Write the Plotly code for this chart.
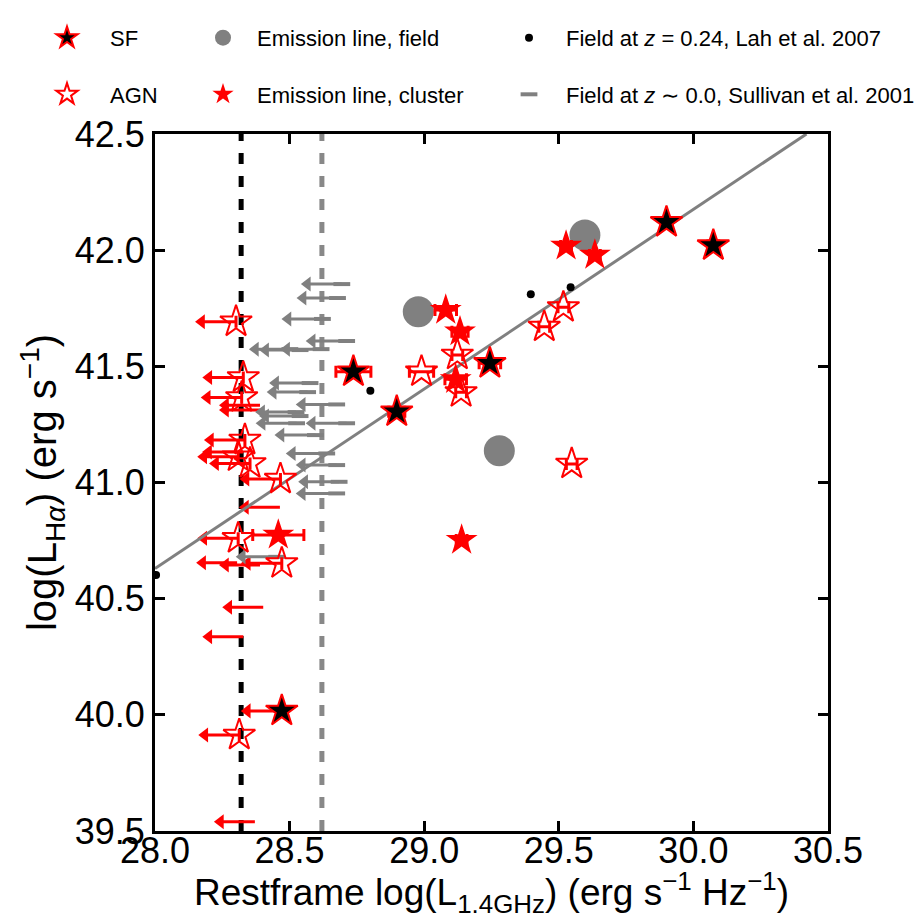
import plotly.graph_objects as go

# ---------------- data ----------------
# cluster emission-line galaxies with radio detections
det_x = [29.080, 29.133, 29.117, 29.139, 29.527, 29.634, 28.458,
         29.900, 30.074, 29.244, 28.737, 28.898,
         29.123, 28.990, 29.137, 29.517, 29.446, 29.548]
det_y = [41.742, 41.649, 41.444, 40.752, 42.018, 41.979, 40.774,
         42.120, 42.020, 41.513, 41.477, 41.305,
         41.549, 41.477, 41.388, 41.754, 41.670, 41.080]
det_xerr = [0.04, 0.03, 0.04, 0.02, 0.02, 0.02, 0.095,
            0.02, 0.02, 0.04, 0.065, 0.03,
            0.02, 0.045, 0.02, 0.02, 0.02, 0.02]
det_class = ['', '', '', '', '', '', '',
             'SF', 'SF', 'SF', 'SF', 'SF',
             'AGN', 'AGN', 'AGN', 'AGN', 'AGN', 'AGN']

# cluster emission-line galaxies with radio upper limits
lim_x = [28.301, 28.328, 28.322, 28.390, 28.390, 28.334, 28.309, 28.353, 28.327, 28.466,
         28.464, 28.309, 28.471, 28.305, 28.390, 28.402, 28.328, 28.471, 28.313, 28.371]
lim_y = [41.692, 41.452, 41.366, 41.333, 41.312, 41.183, 41.111, 41.082, 41.131, 41.015,
         40.893, 40.760, 40.652, 40.655, 40.645, 40.463, 40.336, 40.017, 39.913, 39.540]
lim_class = ['AGN', 'AGN', 'AGN', '', '', 'AGN', 'AGN', 'AGN', '', 'AGN',
             '', 'AGN', 'AGN', '', '', '', '', 'SF', 'AGN', '']

# field emission-line galaxies
fel_x = [28.978, 29.597, 29.279]
fel_y = [41.735, 42.065, 41.137]

# Lah et al. 2007 field at z = 0.24
lah_x = [28.004, 28.800, 29.396, 29.544]
lah_y = [40.602, 41.395, 41.810, 41.840]

# Sullivan et al. 2001 field at z ~ 0 (upper limits)
sul_x = [28.694, 28.678, 28.622, 28.712, 28.501, 28.539, 28.617, 28.576, 28.567, 28.675,
         28.524, 28.539, 28.526, 28.712, 28.596, 28.638, 28.675, 28.684, 28.675, 28.452]
sul_y = [41.854, 41.794, 41.704, 41.609, 41.574, 41.570, 41.574, 41.428, 41.389, 41.336,
         41.303, 41.286, 41.255, 41.255, 41.204, 41.125, 41.075, 41.003, 40.953, 40.680]

# relation line end points
fit_x = [28.0, 30.42]
fit_y = [40.63, 42.5]

# radio detection limits
sf_limit = 28.32
field_limit = 28.62

LIMIT_LEN = 0.128  # length of upper-limit arrows (data units)

RED = '#ff0000'
GREY = '#808080'
FONT = 'Liberation Sans'


def arrows(xs, ys):
    lx, ly, hx = [], [], []
    for x, y in zip(xs, ys):
        lx += [x, x - LIMIT_LEN, None]
        ly += [y, y, None]
        hx.append(x - LIMIT_LEN)
    return lx, ly, hx


fig = go.Figure()

# red upper-limit arrows
lx, ly, hx = arrows(lim_x, lim_y)
fig.add_trace(go.Scatter(x=lx, y=ly, mode='lines', line=dict(color=RED, width=3),
                         showlegend=False, hoverinfo='skip'))
fig.add_trace(go.Scatter(x=hx, y=lim_y, mode='markers',
                         marker=dict(symbol='triangle-left', size=13, color=RED, line=dict(width=0)),
                         showlegend=False, hoverinfo='skip'))

# grey Sullivan arrows
gx, gy, ghx = arrows(sul_x, sul_y)
fig.add_trace(go.Scatter(x=gx, y=gy, mode='lines', line=dict(color=GREY, width=3),
                         showlegend=False, hoverinfo='skip'))
fig.add_trace(go.Scatter(x=ghx, y=sul_y, mode='markers',
                         marker=dict(symbol='triangle-left', size=13, color=GREY, line=dict(width=0)),
                         showlegend=False, hoverinfo='skip'))

# relation line
fig.add_trace(go.Scatter(x=fit_x, y=fit_y, mode='lines', line=dict(color=GREY, width=3),
                         showlegend=False, hoverinfo='skip'))

# field emission line
fig.add_trace(go.Scatter(x=fel_x, y=fel_y, mode='markers', name='Emission line, field',
                         legend='legend2', legendgroup='fel',
                         marker=dict(symbol='circle', size=31, color=GREY, line=dict(width=0))))

# cluster emission line (unclassified)
cx = [x for x, c in zip(det_x, det_class) if c == '']
cy = [y for y, c in zip(det_y, det_class) if c == '']
ce = [e for e, c in zip(det_xerr, det_class) if c == '']
fig.add_trace(go.Scatter(x=cx, y=cy, mode='markers', name='Emission line, cluster',
                         legend='legend2', legendgroup='cel',
                         error_x=dict(type='data', array=ce, color=RED, thickness=3, width=6),
                         marker=dict(symbol='star', size=24, color=RED, line=dict(width=0))))

# Lah et al.
fig.add_trace(go.Scatter(x=lah_x, y=lah_y, mode='markers',
                         name='Field at <i>z</i> = 0.24, Lah et al. 2007',
                         legend='legend3', legendgroup='lah',
                         marker=dict(symbol='circle', size=8, color='black', line=dict(width=0))))

# Sullivan et al. markers (legend entry)
fig.add_trace(go.Scatter(x=sul_x, y=sul_y, mode='markers',
                         name='Field at <i>z</i> ∼ 0.0, Sullivan et al. 2001',
                         legend='legend3', legendgroup='sul',
                         marker=dict(symbol='line-ew', size=12, color=GREY, line=dict(width=4, color=GREY))))


def class_points(cls):
    xs, ys, es = [], [], []
    for x, y, e, c in zip(det_x, det_y, det_xerr, det_class):
        if c == cls:
            xs.append(x); ys.append(y); es.append(e)
    for x, y, c in zip(lim_x, lim_y, lim_class):
        if c == cls:
            xs.append(x); ys.append(y); es.append(0)
    return xs, ys, es


sx, sy, se = class_points('SF')
fig.add_trace(go.Scatter(x=sx, y=sy, mode='markers', name='SF',
                         legend='legend', legendgroup='sf',
                         error_x=dict(type='data', array=se, color=RED, thickness=3, width=6),
                         marker=dict(symbol='star', size=24, color='black', line=dict(width=2, color=RED))))

ax_, ay_, ae_ = class_points('AGN')
fig.add_trace(go.Scatter(x=ax_, y=ay_, mode='markers', name='AGN',
                         legend='legend', legendgroup='agn',
                         error_x=dict(type='data', array=ae_, color=RED, thickness=3, width=6),
                         marker=dict(symbol='star-open', size=24, color=RED, line=dict(width=2, color=RED))))

# limit lines
fig.add_vline(x=sf_limit, line=dict(color='black', width=5, dash='11px,12px'), layer='below')
fig.add_vline(x=field_limit, line=dict(color='#888888', width=5, dash='11px,12px'), layer='below')

axis_common = dict(showline=True, linewidth=3, linecolor='black', mirror='allticks',
                   ticks='inside', ticklen=10, tickwidth=2.5, tickcolor='black',
                   showgrid=False, zeroline=False, tickformat='.1f',
                   tickfont=dict(family=FONT, size=36, color='black'))

legend_common = dict(yanchor='top', xanchor='left', font=dict(size=22, family=FONT, color='black'),
                     tracegroupgap=25, bgcolor='rgba(0,0,0,0)', y=1.168)

fig.update_layout(
    width=914, height=918,
    margin=dict(l=155, r=86, t=134, b=87, autoexpand=False),
    plot_bgcolor='white', paper_bgcolor='white',
    font=dict(family=FONT, color='black'),
    xaxis=dict(range=[28.0, 30.5], dtick=0.5, tick0=28.0, ticklabelstandoff=-14,
               title=dict(text='Restframe log(L<sub>1.4GHz</sub>) (erg s<sup>−1</sup> Hz<sup>−1</sup>)',
                          font=dict(family=FONT, size=37), standoff=12),
               **axis_common),
    yaxis=dict(range=[39.5, 42.5], dtick=0.5, tick0=39.5,
               title=dict(text='log(L<sub>H<i>α</i></sub>) (erg s<sup>−1</sup>)',
                          font=dict(family=FONT, size=40), standoff=6),
               **axis_common),
    legend=dict(x=(24 - 155) / 673, itemwidth=76, **legend_common),
    legend2=dict(x=(189 - 155) / 673, itemwidth=58, **legend_common),
    legend3=dict(x=(492 - 155) / 673, itemwidth=64, **legend_common),
)

fig.write_html('out.html')
